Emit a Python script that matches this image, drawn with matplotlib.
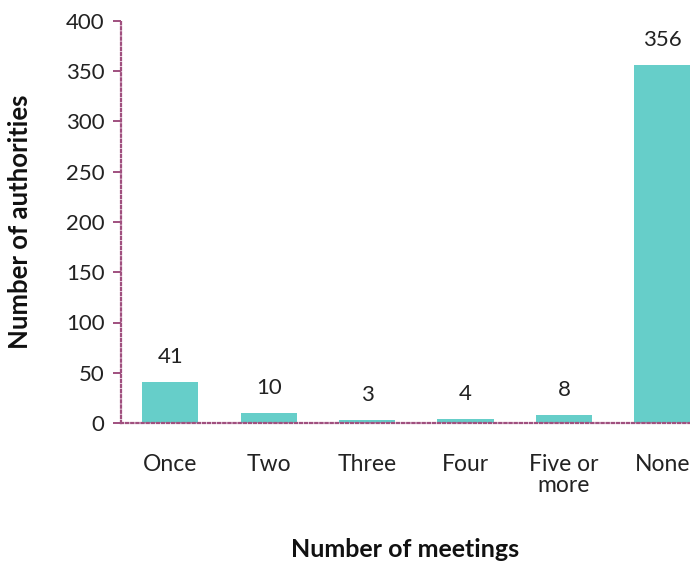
import matplotlib
matplotlib.use("Agg")
import matplotlib.pyplot as plt

categories = ["Once", "Two", "Three", "Four", "Five or\nmore", "None"]
values = [41, 10, 3, 4, 8, 356]
yticks = [0, 50, 100, 150, 200, 250, 300, 350, 400]

plt.rcParams['font.family'] = ['Lato', 'DejaVu Sans']
fig = plt.figure(figsize=(6.9, 5.66), dpi=100)
ax = fig.add_axes([121/690, (566-423)/566, 1 - 121/690, (423-21)/566])

bar_color = "#66CEC9"
spine_color = "#A0507F"
x = list(range(len(categories)))
ax.bar(x, values, width=0.57, color=bar_color, zorder=2)
for xi, v in zip(x, values):
    ax.text(xi, v + 15, str(v), ha="center", va="bottom", fontsize=16, color="#222222")

ax.set_xlim(-0.5, 5.28)
ax.set_ylim(0, 400)
ax.set_yticks(yticks)
ax.set_xticks(x)
ax.set_xticklabels(categories, fontsize=16.5, color="#222222", linespacing=1.05)
ax.tick_params(axis="x", length=0, pad=22)
ax.tick_params(axis="y", length=6, width=1.4, color=spine_color, labelsize=16, labelcolor="#222222", pad=6)
for t in ax.yaxis.get_ticklines():
    t.set_linestyle((0, (1, 1)))

for s in ["top", "right"]:
    ax.spines[s].set_visible(False)
for s in ["left", "bottom"]:
    ax.spines[s].set_color(spine_color)
    ax.spines[s].set_linestyle((0, (1, 1.3)))
    ax.spines[s].set_linewidth(1.6)
    ax.spines[s].set_zorder(3)

ax.set_ylabel("Number of authorities", fontsize=18.5, fontweight="bold", color="#111111", labelpad=24)
ax.set_xlabel("Number of meetings", fontsize=18, fontweight="bold", color="#111111", labelpad=30)

fig.savefig("out.png", dpi=100)
